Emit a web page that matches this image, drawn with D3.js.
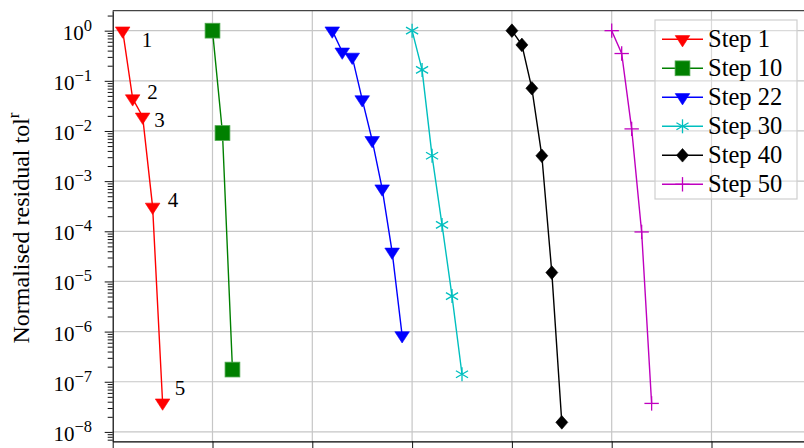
<!DOCTYPE html>
<html><head><meta charset="utf-8">
<script src="https://cdn.jsdelivr.net/npm/d3@7"></script>
<style>body{margin:0;background:#fff} svg{display:block} text{font-family:"Liberation Serif","Times New Roman",serif}</style>
</head><body><svg id="c" width="804" height="448"></svg>
<script>
// ---- data ----
const seriesNames = ["Step 1","Step 10","Step 22","Step 30","Step 40","Step 50"];
const seriesStart = [1, 10, 22, 30, 40, 50];
const step1  = [1, 0.0444, 0.0192, 3.07e-4, 3.83e-8];
const step10 = [1, 0.0091, 1.75e-7];
const step22 = [1, 0.38, 0.30, 0.0425, 0.00654, 7.1e-4, 3.9e-5, 8.4e-7];
const step30 = [1, 0.165, 0.0032, 1.34e-4, 5.1e-6, 1.41e-7];
const step40 = [1, 0.52, 0.071, 0.0032, 1.5e-5, 1.55e-8];
const step50 = [1, 0.35, 0.011, 9.7e-5, 3.7e-8];
const xTicks = [0, 10, 20, 30, 40, 50, 60, 70];
const yTickExp = [0, -1, -2, -3, -4, -5, -6, -7, -8];
const yLabel = "Normalised residual tol";
const yLabelSup = "r";
const annotText = ["1", "2", "3", "4", "5"];
const annotX = [3.44, 3.99, 4.69, 6.04, 6.74];
const annotY = [0.655, 0.060, 0.0170, 4.2e-4, 7.5e-8];

// ---- styles ----
const colors = ["#ff0000", "#008000", "#0000ff", "#00bfbf", "#000000", "#bf00bf"];
const markers = ["tri", "square", "tri", "star", "diamond", "plus"];
const allSeries = [step1, step10, step22, step30, step40, step50];

const svg = d3.select("#c");
const L = 112.7, R = 811.3, T = 10.7, B = 441.3;
const x = d3.scaleLinear().domain([0, 70]).range([L, R]);
const y = d3.scaleLog().domain([6.5e-9, 2.5]).range([B, T]);

// grid
const g = svg.append("g");
g.selectAll("line.vg").data(xTicks.filter(d => d > 0)).enter().append("line")
  .attr("x1", d => x(d)).attr("x2", d => x(d)).attr("y1", T).attr("y2", B)
  .attr("stroke", "#c6c6c6").attr("stroke-width", 1.2);
g.selectAll("line.hg").data(yTickExp).enter().append("line")
  .attr("x1", L).attr("x2", R).attr("y1", d => y(Math.pow(10, d))).attr("y2", d => y(Math.pow(10, d)))
  .attr("stroke", "#c6c6c6").attr("stroke-width", 1.2);

// minor ticks
const minor = [];
for (let e = -9; e <= 0; e++) for (let m = 2; m <= 9; m++) {
  const v = m * Math.pow(10, e);
  if (v >= 6.5e-9 && v <= 2.5) minor.push(v);
}
svg.append("g").attr("transform", `translate(${L},0)`)
  .call(d3.axisLeft(y).tickValues(minor).tickSize(5).tickSizeOuter(0).tickFormat(""))
  .call(a => a.select(".domain").remove())
  .call(a => a.selectAll("line").attr("stroke", "#111").attr("stroke-width", 1));
// major ticks
const yAx = svg.append("g").attr("transform", `translate(${L},0)`)
  .call(d3.axisLeft(y).tickValues(yTickExp.map(e => Math.pow(10, e))).tickSize(8).tickSizeOuter(0).tickFormat(""));
yAx.select(".domain").attr("stroke", "#000").attr("stroke-width", 1.2);
yAx.selectAll("line").attr("stroke", "#111").attr("stroke-width", 1);

// y tick labels
const lab = svg.append("g").selectAll("text").data(yTickExp).enter().append("text")
  .attr("x", 92).attr("y", d => y(Math.pow(10, d)) + 9)
  .attr("text-anchor", "end").attr("font-size", 21).attr("fill", "#000");
lab.append("tspan").text("10");
lab.append("tspan").attr("dy", -9).attr("font-size", 16.5)
  .text(d => d === 0 ? "0" : "\u2212" + Math.abs(d));

// x axis (bottom)
const xAx = svg.append("g").attr("transform", `translate(0,${B})`)
  .call(d3.axisBottom(x).tickValues(xTicks).tickSize(8).tickSizeOuter(0).tickFormat(""));
xAx.select(".domain").attr("stroke", "#000").attr("stroke-width", 1.2);
xAx.selectAll("line").attr("stroke", "#111").attr("stroke-width", 1);
// top spine
svg.append("line").attr("x1", L).attr("x2", R).attr("y1", T).attr("y2", T)
  .attr("stroke", "#444").attr("stroke-width", 1.2);

// y label
svg.append("text").attr("transform", `translate(29,${(T + B) / 2 + 2}) rotate(-90)`)
  .attr("text-anchor", "middle").attr("font-size", 24)
  .call(t => { t.append("tspan").text(yLabel); t.append("tspan").attr("dy", -10).attr("font-size", 17).text(yLabelSup); });

// marker drawer
function drawMarker(sel, type, color) {
  if (type === "tri") {
    sel.append("path").attr("d", "M-7.3,-3.7L7.3,-3.7L0,7.6Z").attr("fill", color).attr("stroke", color).attr("stroke-width", 0.6);
  } else if (type === "square") {
    sel.append("rect").attr("x", -7.4).attr("y", -7.4).attr("width", 14.8).attr("height", 14.8)
      .attr("fill", color).attr("stroke", "#4fa84f").attr("stroke-width", 0.8);
  } else if (type === "star") {
    [90, 30, 150].forEach(a => {
      const r = 7, c = Math.cos(a * Math.PI / 180) * r, s = Math.sin(a * Math.PI / 180) * r;
      sel.append("line").attr("x1", -c).attr("y1", -s).attr("x2", c).attr("y2", s)
        .attr("stroke", color).attr("stroke-width", 1.3);
    });
  } else if (type === "diamond") {
    sel.append("path").attr("d", "M0,-6.8L6,0L0,6.8L-6,0Z").attr("fill", color).attr("stroke", color).attr("stroke-width", 0.6);
  } else if (type === "plus") {
    sel.append("line").attr("x1", -7.2).attr("x2", 7.2).attr("y1", 0).attr("y2", 0).attr("stroke", color).attr("stroke-width", 1.3);
    sel.append("line").attr("x1", 0).attr("x2", 0).attr("y1", -7.2).attr("y2", 7.2).attr("stroke", color).attr("stroke-width", 1.3);
  }
}

// series
const line = d3.line().x(d => x(d[0])).y(d => y(d[1]));
allSeries.forEach((vals, si) => {
  const pts = vals.map((v, i) => [seriesStart[si] + i, v]);
  svg.append("path").attr("d", line(pts)).attr("fill", "none")
    .attr("stroke", colors[si]).attr("stroke-width", 1.4);
  pts.forEach(p => {
    const m = svg.append("g").attr("transform", `translate(${x(p[0])},${y(p[1])})`);
    drawMarker(m, markers[si], colors[si]);
  });
});

// annotations
svg.append("g").selectAll("text").data(annotText).enter().append("text")
  .attr("x", (d, i) => x(annotX[i])).attr("y", (d, i) => y(annotY[i]))
  .attr("dy", "0.35em").attr("text-anchor", "middle")
  .attr("font-size", 21).text(d => d);

// legend
const lg = svg.append("g");
lg.append("rect").attr("x", 655).attr("y", 20).attr("width", 142).attr("height", 179)
  .attr("fill", "#fff").attr("fill-opacity", 0.35).attr("stroke", "#cfcfcf").attr("stroke-width", 1.2);
seriesNames.forEach((name, i) => {
  const cy = 39.3 + i * 29;
  lg.append("line").attr("x1", 662).attr("x2", 703).attr("y1", cy).attr("y2", cy)
    .attr("stroke", colors[i]).attr("stroke-width", 1.4);
  const m = lg.append("g").attr("transform", `translate(682.5,${cy})`);
  drawMarker(m, markers[i], colors[i]);
  lg.append("text").attr("x", 708).attr("y", cy + 8)
    .attr("font-size", 24.5).text(name);
});
</script></body></html>
